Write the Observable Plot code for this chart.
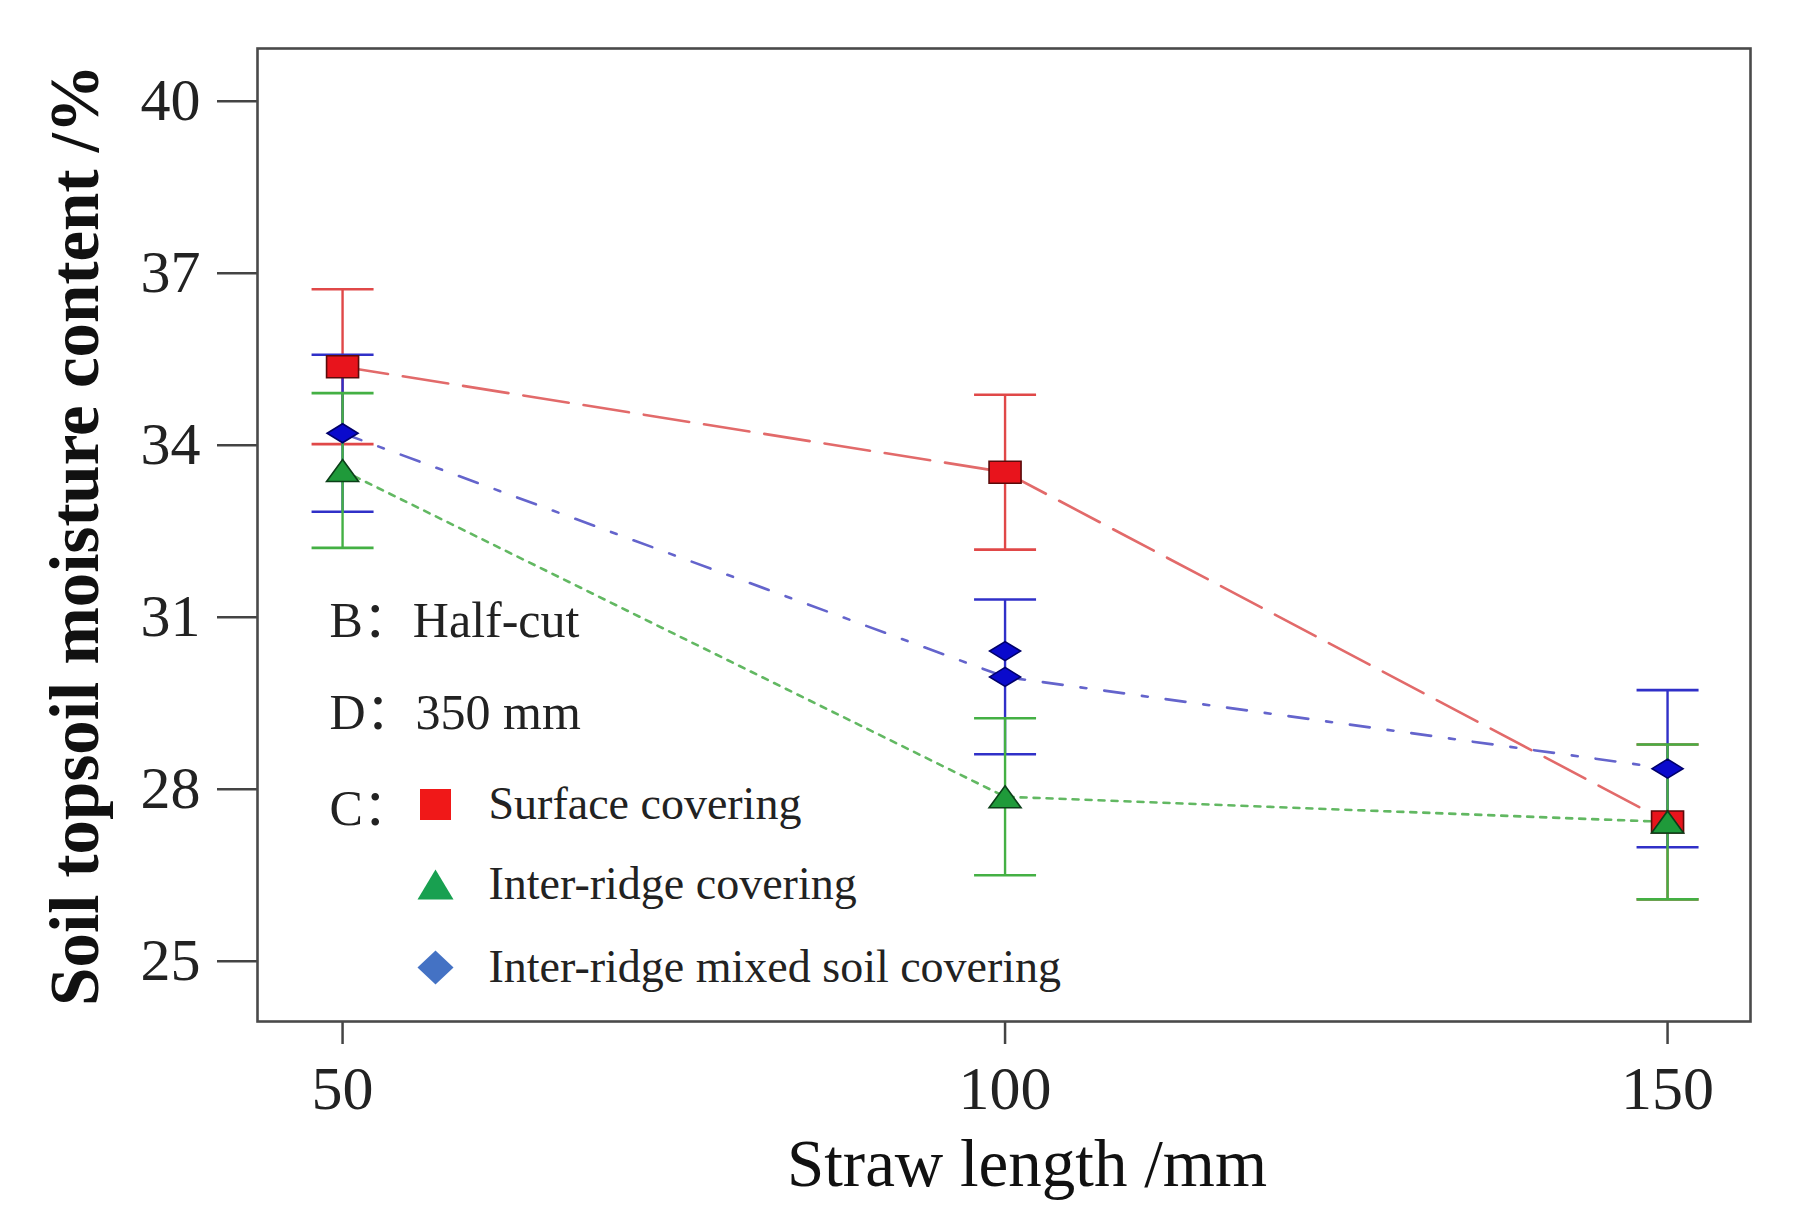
<!DOCTYPE html>
<html>
<head>
<meta charset="utf-8">
<script src="https://cdn.jsdelivr.net/npm/d3@7"></script>
<script src="https://cdn.jsdelivr.net/npm/@observablehq/plot@0.6"></script>
<style>
  body { margin: 0; background: #fff; }
  #myplot svg { display: block; }
</style>
</head>
<body>
<div id="myplot"></div>
<script>
const lengths = [50, 100, 150];
const surfaceMean = [35.37, 33.53, 27.43];
const surfaceErr = [1.35, 1.35, 1.35];
const ridgeMean = [33.56, 27.87, 27.43];
const ridgeErr = [1.35, 1.37, 1.35];
const mixedMean = [34.21, 29.96, 28.36];
const mixedErr = [1.37, 1.35, 1.37];
// second blue point drawn at 100 mm in the figure
const mixedExtraX = [100];
const mixedExtraY = [30.41];

const yTicks = [25, 28, 31, 34, 37, 40];
const notes = ["B：Half-cut", "D：350 mm", "C："];
const legendLabels = ["Surface covering", "Inter-ridge covering", "Inter-ridge mixed soil covering"];

const font = "Liberation Serif, 'Noto Sans CJK SC', serif";

// marker shapes (the figure's markers are wider than tall)
const rectSym = (w, h) => ({draw(c) { c.rect(-w / 2, -h / 2, w, h); }});
const triSym = (w, h) => ({draw(c) { c.moveTo(0, -h / 2); c.lineTo(w / 2, h / 2); c.lineTo(-w / 2, h / 2); c.closePath(); }});
const diaSym = (w, h) => ({draw(c) { c.moveTo(0, -h / 2); c.lineTo(w / 2, 0); c.lineTo(0, h / 2); c.lineTo(-w / 2, 0); c.closePath(); }});
const capSym = (w) => ({draw(c) { c.moveTo(-w / 2, 0); c.lineTo(w / 2, 0); }});

const toRows = (mean, err) => lengths.map((x, i) => ({x, y: mean[i], lo: mean[i] - err[i], hi: mean[i] + err[i]}));

const series = [
  {rows: toRows(surfaceMean, surfaceErr), line: "#e26a6a", dash: "46,15", bar: "#e04848", fill: "#e8141c", edge: "#5a0a0a", sym: rectSym(32, 22), legFill: "#f01818", legSym: rectSym(31, 31)},
  {rows: toRows(mixedMean, mixedErr), line: "#6464cc", dash: "20,18,6,18", bar: "#3030c8", fill: "#0a0acc", edge: "#00006a", sym: diaSym(31, 19), legFill: "#4472c4", legSym: diaSym(36, 34)},
  {rows: toRows(ridgeMean, ridgeErr), line: "#62b862", dash: "6,7", bar: "#44b044", fill: "#1f9a3a", edge: "#0b3f18", sym: triSym(32, 22), legFill: "#18a050", legSym: triSym(36, 30)}
];
const legendOrder = [series[0], series[2], series[1]];

const marks = [];
// connecting lines
for (const s of series) {
  marks.push(Plot.line(s.rows, {x: "x", y: "y", stroke: s.line, strokeWidth: 2.6, strokeDasharray: s.dash}));
}
// error bars with caps
for (const s of series) {
  marks.push(Plot.ruleX(s.rows, {x: "x", y1: "lo", y2: "hi", stroke: s.bar, strokeWidth: 2.4}));
  marks.push(Plot.dot(s.rows, {x: "x", y: "lo", symbol: capSym(62), stroke: s.bar, strokeWidth: 2.6, fill: "none"}));
  marks.push(Plot.dot(s.rows, {x: "x", y: "hi", symbol: capSym(62), stroke: s.bar, strokeWidth: 2.6, fill: "none"}));
}
// markers
for (const s of series) {
  marks.push(Plot.dot(s.rows, {x: "x", y: "y", symbol: s.sym, fill: s.fill, stroke: s.edge, strokeWidth: 1.6}));
}
marks.push(Plot.dot(mixedExtraX.map((x, i) => ({x, y: mixedExtraY[i]})), {x: "x", y: "y", symbol: series[1].sym, fill: series[1].fill, stroke: series[1].edge, strokeWidth: 1.6}));

// notes and legend inside the frame
notes.forEach((t, i) => {
  marks.push(Plot.text([t], {text: d => d, frameAnchor: "top-left", dx: 72, dy: [572, 664, 760][i], textAnchor: "start", lineAnchor: "middle", fontSize: 50, fontFamily: font, fill: "#222"}));
});
legendOrder.forEach((s, i) => {
  const dy = [756, 836, 919][i];
  marks.push(Plot.dot([0], {frameAnchor: "top-left", dx: 178, dy, symbol: s.legSym, fill: s.legFill, stroke: "none"}));
  marks.push(Plot.text([legendLabels[i]], {text: d => d, frameAnchor: "top-left", dx: 231, dy, textAnchor: "start", lineAnchor: "middle", fontSize: 46, fontFamily: font, fill: "#222"}));
});

// axes, frame, titles
marks.push(
  Plot.axisY({ticks: yTicks, tickSize: 40, tickPadding: 17, fontSize: 60, fontFamily: font, label: null, stroke: "#444", strokeWidth: 2.5, fill: "#222"}),
  Plot.axisX({ticks: lengths, tickSize: 23, tickPadding: 20, fontSize: 62, fontFamily: font, label: null, stroke: "#444", strokeWidth: 2.5, fill: "#222"}),
  Plot.frame({stroke: "#4a4a4a", strokeWidth: 2.6}),
  Plot.text(["Soil topsoil moisture content /%"], {text: d => d, frameAnchor: "left", dx: -182, rotate: -90, textAnchor: "middle", lineAnchor: "middle", fontSize: 69, fontWeight: "bold", fontFamily: font, fill: "#111"}),
  Plot.text(["Straw length /mm"], {text: d => d, frameAnchor: "bottom", dx: 23, dy: 143, textAnchor: "middle", lineAnchor: "middle", fontSize: 67, fontFamily: font, fill: "#111"})
);

const plot = Plot.plot({
  width: 1800,
  height: 1228,
  marginLeft: 257,
  marginRight: 50,
  marginTop: 48,
  marginBottom: 207,
  style: {fontFamily: font, background: "#fff", overflow: "visible"},
  x: {domain: [43.58, 156.26], axis: null},
  y: {domain: [23.95, 40.92], axis: null},
  marks
});

document.querySelector("#myplot").append(plot);
</script>
</body>
</html>
